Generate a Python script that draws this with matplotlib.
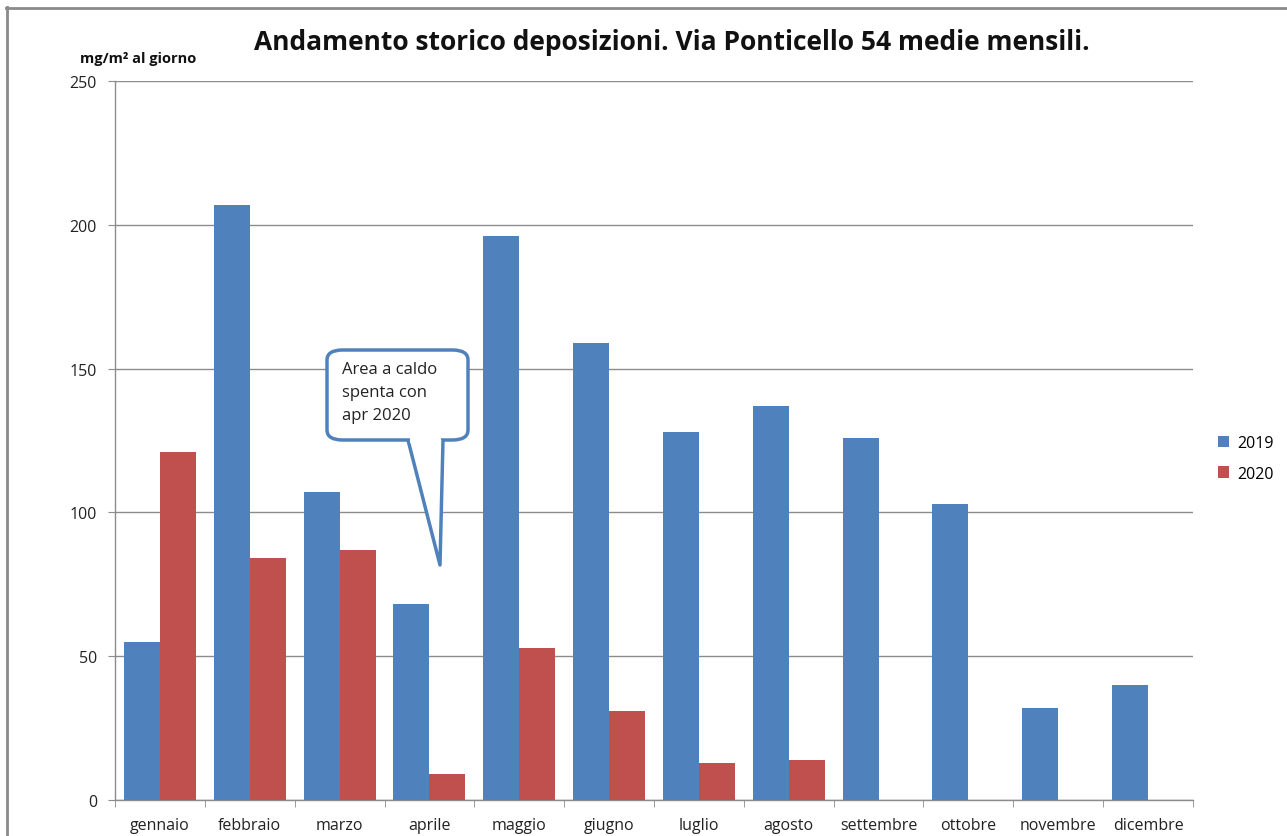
import matplotlib
matplotlib.use("Agg")
import matplotlib.pyplot as plt
import numpy as np
from matplotlib.patches import FancyBboxPatch, Polygon, Rectangle

months = ["gennaio", "febbraio", "marzo", "aprile", "maggio", "giugno",
          "luglio", "agosto", "settembre", "ottobre", "novembre", "dicembre"]
v2019 = [55, 207, 107, 68, 196, 159, 128, 137, 126, 103, 32, 40]
v2020 = [121, 84, 87, 9, 53, 31, 13, 14, np.nan, np.nan, np.nan, np.nan]
series_names = ["2019", "2020"]
yticks = [0, 50, 100, 150, 200, 250]

BLUE = "#4F81BD"
RED = "#C0504D"
GRID = "#8C8C8C"
FONT = ["Open Sans", "DejaVu Sans"]
plt.rcParams['font.family'] = FONT

W, H = 1287, 837
fig = plt.figure(figsize=(W/100, H/100), dpi=100)
ax = fig.add_axes([115/W, 1-801/H, (1193-115)/W, (801-82)/H])

x = np.arange(len(months))
bw = 0.4
ax.bar(x - bw/2, v2019, width=bw, color=BLUE, label=series_names[0], zorder=3)
ax.bar(x + bw/2, v2020, width=bw, color=RED, label=series_names[1], zorder=3)

ax.set_xlim(-0.5, len(months)-0.5)
ax.set_ylim(0, 250)
ax.set_yticks(yticks)
ax.set_yticklabels([str(t) for t in yticks], fontsize=11.5, color="#222222")
ax.yaxis.grid(True, color=GRID, linewidth=1, zorder=0)
ax.set_axisbelow(True)

ax.set_xticks(x)
ax.set_xticklabels(months, fontsize=11.5, color="#222222")
ax.tick_params(axis="x", length=0, pad=12.5)
ax.set_xticks(np.arange(-0.5, len(months)), minor=True)
ax.tick_params(axis="x", which="minor", length=5, color=GRID, direction="out")
ax.tick_params(axis="y", length=5, color=GRID, direction="out", pad=8)

for s in ["top", "right"]:
    ax.spines[s].set_visible(False)
for s in ["left", "bottom"]:
    ax.spines[s].set_color(GRID)
    ax.spines[s].set_linewidth(1)

# title
fig.text(672/W, 1-43/H, "Andamento storico deposizioni. Via Ponticello 54 medie mensili.",
         ha="center", va="center", fontsize=19, fontweight="bold", color="#111111")
# y label
fig.text(80/W, 1-59/H, "mg/m² al giorno", ha="left", va="center",
         fontsize=10.5, fontweight="bold", color="#111111")

# legend
leg = ax.legend(loc="center left", bbox_to_anchor=(1.01, 0.475), frameon=False,
                fontsize=11.5, handlelength=0.7, handleheight=0.7, handletextpad=0.5,
                labelspacing=0.9)

# callout (in figure pixel coords)
def fx(px):
    return px / W
def fy(py):
    return 1 - py / H

box = FancyBboxPatch((fx(327), fy(441)), fx(468) - fx(327), fy(351) - fy(441),
                     boxstyle="round,pad=0,rounding_size=0.012",
                     transform=fig.transFigure, facecolor="white",
                     edgecolor=BLUE, linewidth=2.5, zorder=5)
fig.add_artist(box)
tail = Polygon([(fx(408), fy(441)), (fx(440), fy(566)), (fx(443), fy(441))],
               closed=False, transform=fig.transFigure, facecolor="white",
               edgecolor=BLUE, linewidth=2.5, zorder=6, joinstyle="round")
fig.add_artist(tail)
cover = Rectangle((fx(410), fy(444)), fx(441) - fx(410), fy(438) - fy(444),
                  transform=fig.transFigure, facecolor="white", edgecolor="none", zorder=7)
fig.add_artist(cover)
fig.text(fx(342), fy(362), "Area a caldo\nspenta con\napr 2020", ha="left", va="top",
         fontsize=12, color="#222222", linespacing=1.6, zorder=8)

# figure border
fig.add_artist(plt.Line2D([fx(7), fx(7)], [fy(8), 0], transform=fig.transFigure,
                          color="#8A8A8A", linewidth=2))
fig.add_artist(plt.Line2D([fx(6), 1], [fy(9), fy(9)], transform=fig.transFigure,
                          color="#8A8A8A", linewidth=2))

fig.savefig("out.png", dpi=100, facecolor="white")
